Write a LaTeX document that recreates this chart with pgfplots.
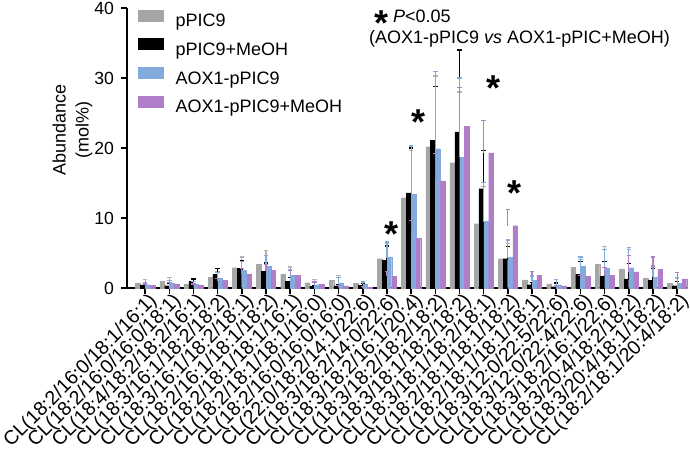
\documentclass[border=0pt]{standalone}
\usepackage{pgfplots}
\pgfplotsset{compat=1.18}
\usepackage{pgfplotstable}
\usepackage{fontspec}
\setmainfont{Liberation Sans}
\definecolor{cgray}{HTML}{A6A6A6}
\definecolor{cblue}{HTML}{82AADC}
\definecolor{cpurple}{HTML}{B07DC8}

\pgfplotstableread{
x y e
0 0.72 0.44
1 0.92 0.53
2 0.58 0.39
3 1.50 0.80
4 2.90 1.54
5 3.38 2.02
6 1.93 1.07
7 0.77 0.43
8 1.06 0.78
9 0.63 0.24
10 4.20 2.13
11 12.9 6.7
12 20.2 10.1
13 17.9 10.1
14 9.2 5.3
15 4.2 2.2
16 1.16 0.62
17 0.58 0.62
18 3.0 1.1
19 3.38 2.52
20 2.75 2.75
21 1.45 1.45
22 0.68 0.72
}\tgray

\pgfplotstableread{
x y e
0 0.43 0.15
1 0.34 0.34
2 0.92 0.38
3 1.93 0.82
4 2.80 1.16
5 2.40 1.17
6 0.97 0.58
7 0.24 0.10
8 0.29 0.14
9 0.39 0.24
10 3.96 2.04
11 13.6 6.4
12 21.1 7.7
13 22.3 11.7
14 14.2 5.4
15 4.2 1.7
16 0.48 0.34
17 0.19 0.53
18 1.93 1.87
19 1.70 2.07
20 1.30 2.18
21 1.10 1.70
22 0.34 0.58
}\tblack

\pgfplotstableread{
x y e
0 0.48 0.34
1 0.72 0.38
2 0.53 0.44
3 1.40 0.77
4 2.56 1.21
5 3.10 1.54
6 1.80 0.80
7 0.48 0.49
8 0.72 0.73
9 0.58 0.34
10 4.35 2.22
11 13.4 6.9
12 19.9 11.0
13 18.7 11.3
14 9.5 5.6
15 4.35 2.5
16 1.06 0.58
17 0.48 0.72
18 3.14 1.30
19 2.80 2.75
20 2.90 2.90
21 1.55 1.59
22 0.63 0.82
}\tblue

\pgfplotstableread{
x y e
0 0.39 0.19
1 0.58 0.19
2 0.43 0.15
3 1.06 0.29
4 2.03 0.72
5 2.50 0.83
6 1.80 0.66
7 0.53 0.34
8 0.29 0.05
9 0.14 0.05
10 1.70 0.70
11 7.1 2.5
12 15.3 3.9
13 23.1 5.5
14 19.3 4.6
15 8.9 2.3
16 1.78 0.62
17 0.29 0.05
18 1.64 0.16
19 1.80 1.10
20 2.30 2.30
21 2.66 1.78
22 1.30 0.90
}\tpurple

\pgfplotstableread{
x y
10.2 6.0
11.29 22.0
14.4 26.8
15.27 11.8
}\tstar

\newcommand{\bigast}{{\fontsize{18}{18}\selectfont\bfseries *}}

\begin{document}
\begin{tikzpicture}
\useasboundingbox (-63.5pt,-84pt) rectangle (281.5pt,144pt);
\begin{axis}[
  scale only axis, width=280.5pt, height=140pt,
  xmin=-0.75, xmax=22.45, ymin=0, ymax=40,
  axis x line*=bottom, axis y line*=left,
  axis line style={line width=0.75pt},
  xtick={0,...,22},
  xticklabels={CL(18:2/16:0/18:1/16:1),CL(18:2/16:0/16:0/18:1),CL(18:4/18:2/18:2/16:1),CL(18:3/16:1/18:2/18:2),CL(18:3/16:1/18:2/18:1),CL(18:2/16:1/18:1/18:2),CL(18:2/18:1/18:1/16:1),CL(18:2/18:1/18:1/16:0),CL(18:2/16:0/16:0/16:0),CL(22:0/18:2/14:1/22:6),CL(18:3/18:2/14:0/22:6),CL(18:3/18:2/16:1/20:4),CL(18:3/18:2/18:2/18:2),CL(18:3/18:1/18:2/18:2),CL(18:3/18:1/18:2/18:1),CL(18:2/18:1/18:1/18:2),CL(18:2/18:1/18:1/18:1),CL(18:3/12:0/22:5/22:6),CL(18:3/12:0/22:4/22:6),CL(18:3/18:2/16:1/22:6),CL(18:3/20:4/18:2/18:2),CL(18:3/20:4/18:1/18:2),CL(18:2/18:1/20:4/18:2)},
  ytick={0,10,20,30,40},
  tick align=outside, major tick length=3pt,
  tick style={line width=0.75pt, black},
  xticklabel style={rotate=45, anchor=east, font=\fontsize{9.8}{9}\selectfont, inner sep=0pt, xshift=2pt, yshift=-4.5pt},
  yticklabel style={font=\fontsize{8.8}{9}\selectfont},
  /pgf/number format/assume math mode=true,
  ylabel={Abundance\\(mol\%)},
  ylabel style={align=center, font=\fontsize{9}{11.5}\selectfont, at={(axis description cs:-0.097,0.565)}, anchor=center},
  legend style={at={(axis description cs:0.0196,1)}, anchor=north west, yshift=-0.6pt, draw=none, fill=none, inner sep=0pt, row sep=2.8pt, font=\fontsize{9}{10}\selectfont, nodes={inner sep=1pt, text height=7pt, text depth=2pt}, /tikz/every odd column/.append style={column sep=5pt}},
  legend cell align=left,
  clip=false,
]
\addplot[ybar, bar width=0.19, bar shift=-0.3, fill=cgray, draw=cgray, line width=0.1pt,
  legend image code/.code={\fill[cgray] (0pt,0.5pt) rectangle (12.5pt,6pt);},
  error bars/.cd, y dir=plus, y explicit,
  error bar style={draw=cgray!85, line width=0.6pt},
  error mark options={draw=cgray!85, rotate=90, mark size=1.1pt, line width=0.6pt}]
  table[x=x, y=y, y error=e] {\tgray};
\addlegendentry{pPIC9}
\addplot[ybar, bar width=0.19, bar shift=-0.1, fill=black, draw=black, line width=0.1pt,
  legend image code/.code={\fill[black] (0pt,0.5pt) rectangle (12.5pt,6pt);},
  error bars/.cd, y dir=plus, y explicit,
  error bar style={draw=black, line width=0.6pt},
  error mark options={draw=black, rotate=90, mark size=1.1pt, line width=0.6pt}]
  table[x=x, y=y, y error=e] {\tblack};
\addlegendentry{pPIC9+MeOH}
\addplot[ybar, bar width=0.19, bar shift=0.1, fill=cblue, draw=cblue, line width=0.1pt,
  legend image code/.code={\fill[cblue] (0pt,0.5pt) rectangle (12.5pt,6pt);},
  error bars/.cd, y dir=plus, y explicit,
  error bar style={draw=cblue, line width=0.6pt},
  error mark options={draw=cblue, rotate=90, mark size=1.1pt, line width=0.6pt}]
  table[x=x, y=y, y error=e] {\tblue};
\addlegendentry{AOX1-pPIC9}
\addplot[ybar, bar width=0.19, bar shift=0.3, fill=cpurple, draw=cpurple, line width=0.1pt,
  legend image code/.code={\fill[cpurple] (0pt,0.5pt) rectangle (12.5pt,6pt);},
  error bars/.cd, y dir=plus, y explicit,
  error bar style={draw=cpurple, line width=0.6pt},
  error mark options={draw=cpurple, rotate=90, mark size=1.1pt, line width=0.6pt}]
  table[x=x, y=y, y error=e] {\tpurple};
\addlegendentry{AOX1-pPIC9+MeOH}
\addplot[draw=none, mark=none, forget plot, nodes near coords={\bigast},
  nodes near coords style={anchor=base, inner sep=0pt}]
  table[x=x, y=y] {\tstar};
\node[anchor=north west, align=left, inner sep=0pt, yshift=-1pt, font=\fontsize{9}{10.5}\selectfont]
  at (axis description cs:0.431,1) {\hspace*{2.5pt}\smash{\raisebox{-6.4pt}{\bigast}}\hspace{2.5pt}\textit{P}<0.05\\(AOX1-pPIC9 \textit{vs} AOX1-pPIC+MeOH)};
\end{axis}
\end{tikzpicture}
\end{document}
